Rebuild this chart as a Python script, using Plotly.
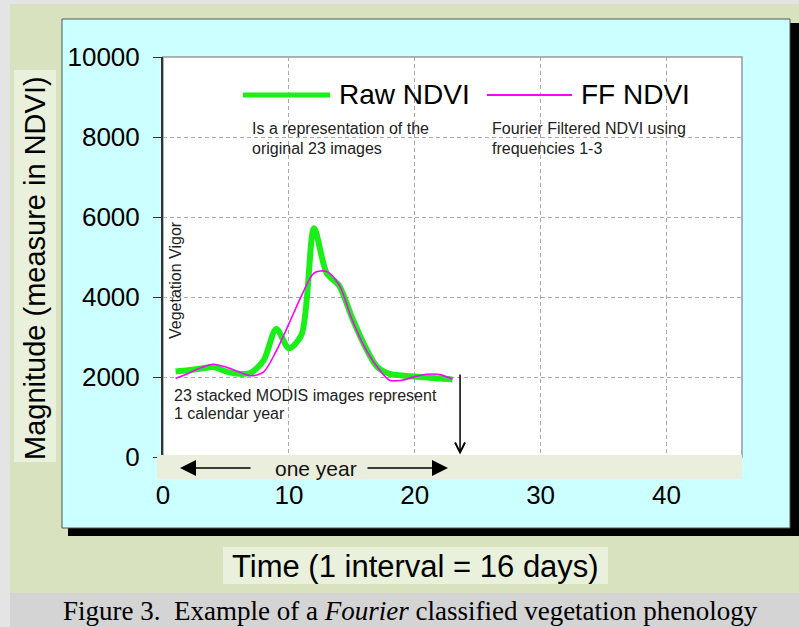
import plotly.graph_objects as go

# ---------------- data ----------------
time_idx = list(range(1, 24))
raw_ndvi = [2140, 2170, 2210, 2250, 2140, 2080, 2110, 2420, 3200, 2720, 3050, 5720,
            4600, 4280, 3500, 2800, 2260, 2080, 2040, 2010, 1990, 1960, 1940]
ff_ndvi = [1970, 2090, 2230, 2320, 2250, 2130, 2030, 2130, 2650, 3330, 4030, 4600,
           4640, 4300, 3450, 2760, 2260, 1920, 1920, 2010, 2070, 2060, 1950]
x_ticks = [0, 10, 20, 30, 40]
y_ticks = [0, 2000, 4000, 6000, 8000, 10000]
y_tick_labels = ["0", "2000", "4000", "6000", "8000", "10000"]

# ---------------- layout helpers (pixel -> paper) ----------------
W, H = 799, 627
L, R, T, B = 163, 742, 57, 457


def px(x):
    return (x - L) / (R - L)


def py(y):
    return (B - y) / (B - T)


def rect(x0, y0, x1, y1, fill, line=None, lw=0, layer="below"):
    return dict(type="rect", xref="paper", yref="paper", x0=px(x0), x1=px(x1),
                y0=py(y1), y1=py(y0), fillcolor=fill, layer=layer,
                line=dict(color=line or fill, width=lw))


fig = go.Figure()
fig.add_trace(go.Scatter(x=time_idx, y=raw_ndvi, mode="lines", name="Raw NDVI",
                         line=dict(color="#19f019", width=6, shape="spline", smoothing=0.8),
                         showlegend=False))
fig.add_trace(go.Scatter(x=time_idx, y=ff_ndvi, mode="lines", name="FF NDVI",
                         line=dict(color="#ff00ff", width=1.6, shape="spline", smoothing=0.8),
                         showlegend=False))

shapes = [
    rect(10, 4, 799, 593, "#d9e2be"),               # olive slide background
    rect(10, 593, 799, 627, "#d4d4d4"),             # caption band
    rect(68, 23, 799, 536, "#000000"),              # black drop shadow
    rect(62, 19, 790, 528, "#ccffff", "#555555", 1),  # cyan panel
    rect(14, 70, 56, 462, "#e9f0dc"),               # y-title box
    rect(223, 547, 608, 584, "#e9f0dc"),            # x-title box
    rect(163, 57, 742, 457, "#ffffff", "#999999", 1.5),  # plot area
    rect(157, 455, 742, 479, "#e9efdc", layer="above"),  # "one year" band
    dict(type="line", xref="paper", yref="paper", x0=px(243), x1=px(330), y0=py(95), y1=py(95),
         line=dict(color="#19f019", width=5), layer="above"),
    dict(type="line", xref="paper", yref="paper", x0=px(487), x1=px(572), y0=py(95), y1=py(95),
         line=dict(color="#ff00ff", width=2), layer="above"),
]

SANS = "Liberation Sans, Arial, sans-serif"


def text(x, y, s, size, color="#000", xanchor="left", angle=0, family=SANS):
    return dict(x=px(x), y=py(y), xref="paper", yref="paper", text=s, showarrow=False,
                xanchor=xanchor, yanchor="middle", textangle=angle,
                font=dict(family=family, size=size, color=color))


annotations = [
    text(35, 268, "Magnitude (measure in NDVI)", 29, xanchor="center", angle=-90),
    text(415, 566, "Time (1 interval = 16 days)", 31, xanchor="center"),
    text(410, 611, "Figure 3.&nbsp; Example of a <i>Fourier</i> classified vegetation phenology", 27,
         xanchor="center", family="Liberation Serif, Times New Roman, serif"),
    text(337, 95, "Raw NDVI", 28),
    text(579, 95, "FF NDVI", 28),
    text(250, 128, "Is a representation of the", 16, "#222"),
    text(250, 148, "original 23 images", 16, "#222"),
    text(490, 128, "Fourier Filtered NDVI using", 16, "#222"),
    text(490, 148, "frequencies 1-3", 16, "#222"),
    text(175, 280, "Vegetation Vigor", 16, "#222", xanchor="center", angle=-90),
    text(172, 395, "23 stacked MODIS images represent", 16, "#222"),
    text(172, 413, "1 calendar year", 16, "#222"),
    text(316, 468, "one year", 21, "#111", xanchor="center"),
    # one-year arrows
    dict(x=px(180), y=py(468), xref="paper", yref="paper", text="", showarrow=True,
         ax=72, ay=0, arrowhead=2, arrowsize=2, arrowwidth=1.6, arrowcolor="#000"),
    dict(x=px(448), y=py(468), xref="paper", yref="paper", text="", showarrow=True,
         ax=-82, ay=0, arrowhead=2, arrowsize=2, arrowwidth=1.6, arrowcolor="#000"),
    # end-of-year down arrow
    dict(x=23.6, y=60, xref="x", yref="y", ax=23.6, ay=2100, axref="x", ayref="y",
         text="", showarrow=True, arrowhead=5, arrowsize=1.3, arrowwidth=1.5, arrowcolor="#000"),
]

fig.update_layout(
    width=W, height=H, autosize=False,
    margin=dict(l=L, r=W - R, t=T, b=H - B, pad=0),
    paper_bgcolor="#e4e4e4", plot_bgcolor="rgba(0,0,0,0)",
    shapes=shapes, annotations=annotations,
    font=dict(family=SANS, color="#000"),
    xaxis=dict(range=[0, 46], tickvals=x_ticks, showgrid=True, gridcolor="#aaaaaa",
               griddash="4px,3px", gridwidth=1, zeroline=False, showline=False, ticks="",
               ticklabelstandoff=20, tickfont=dict(size=26, family=SANS, color="#000")),
    yaxis=dict(range=[0, 10000], tickvals=y_ticks, ticktext=y_tick_labels, showgrid=True,
               gridcolor="#aaaaaa", griddash="4px,3px", gridwidth=1, zeroline=False,
               showline=True, linecolor="#333333", linewidth=2, ticks="outside", ticklen=8,
               tickcolor="#333333", ticklabelstandoff=8,
               tickfont=dict(size=26, family=SANS, color="#000")),
)

fig.write_html("out.html", config={"displayModeBar": False},
               post_script="document.body.style.margin='0';")
